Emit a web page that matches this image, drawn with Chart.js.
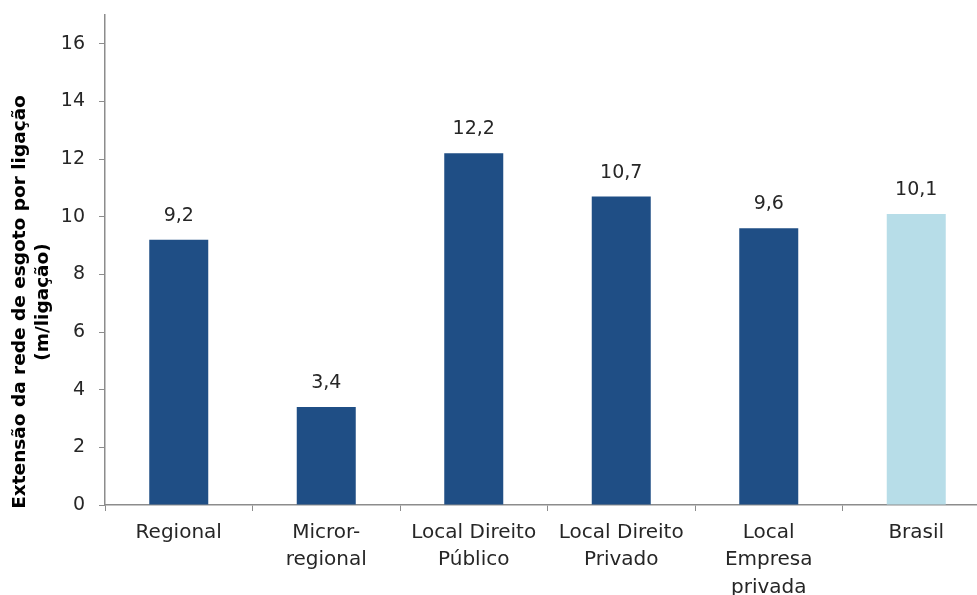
<!DOCTYPE html>
<html>
<head>
<meta charset="utf-8">
<script src="https://cdn.jsdelivr.net/npm/chart.js@4/dist/chart.umd.min.js"></script>
<style>
  html, body { margin: 0; padding: 0; background: #fff; overflow: hidden; }
  #wrap { width: 990px; height: 595px; }
</style>
</head>
<body>
<div id="wrap"><canvas id="myChart" width="990" height="595"></canvas></div>
<script>
const categories = [
  ['Regional'],
  ['Micror-', 'regional'],
  ['Local Direito', 'Público'],
  ['Local Direito', 'Privado'],
  ['Local', 'Empresa', 'privada'],
  ['Brasil']
];
const values = [9.2, 3.4, 12.2, 10.7, 9.6, 10.1];
const barColors = ['#1F4E85', '#1F4E85', '#1F4E85', '#1F4E85', '#1F4E85', '#B7DDE8'];
const yTicks = [0, 2, 4, 6, 8, 10, 12, 14, 16];
const yTitle = ['Extensão da rede de esgoto por ligação', '(m/ligação)'];

const FONT = "'DejaVu Sans', sans-serif";

// draws the value above each bar
const valueLabels = {
  id: 'valueLabels',
  afterDatasetsDraw(chart) {
    const ctx = chart.ctx;
    const meta = chart.getDatasetMeta(0);
    ctx.save();
    ctx.font = '19px ' + FONT;
    ctx.fillStyle = '#262626';
    ctx.textAlign = 'center';
    ctx.textBaseline = 'middle';
    meta.data.forEach((bar, i) => {
      ctx.fillText(values[i].toFixed(1).replace('.', ','), bar.x, bar.y - 24);
    });
    ctx.restore();
  }
};

// y axis title, drawn a bit below the middle like the original
const yAxisTitle = {
  id: 'yAxisTitle',
  afterDraw(chart) {
    const ctx = chart.ctx;
    const area = chart.chartArea;
    const cy = (area.top + area.bottom) / 2 + 42;
    ctx.save();
    ctx.font = 'bold 18.5px ' + FONT;
    ctx.fillStyle = '#000';
    ctx.textAlign = 'center';
    ctx.textBaseline = 'middle';
    ctx.translate(0, cy);
    ctx.rotate(-Math.PI / 2);
    ctx.fillText(yTitle[0], 0, 20);
    ctx.fillText(yTitle[1], 0, 43);
    ctx.restore();
  }
};

const ctx = document.getElementById('myChart').getContext('2d');
new Chart(ctx, {
  type: 'bar',
  data: {
    labels: categories,
    datasets: [{
      data: values,
      backgroundColor: barColors,
      borderWidth: 0,
      barPercentage: 0.4,
      categoryPercentage: 1
    }]
  },
  options: {
    responsive: false,
    animation: false,
    layout: { padding: { top: 15, right: 0, left: 0, bottom: 0 } },
    plugins: { legend: { display: false }, tooltip: { enabled: false } },
    scales: {
      x: {
        grid: { drawOnChartArea: false, drawTicks: true, tickLength: 6, color: '#8c8c8c' },
        border: { color: '#8c8c8c', width: 1.5 },
        ticks: { color: '#262626', font: { family: FONT, size: 20, lineHeight: 1.37 }, padding: 8, maxRotation: 0, autoSkip: false },
        afterFit(scale) { scale.height = 90; scale.paddingLeft = 0; scale.paddingRight = 0; }
      },
      y: {
        min: 0,
        max: 17,
        grid: { drawOnChartArea: false, drawTicks: true, tickLength: 6, color: '#8c8c8c' },
        border: { color: '#8c8c8c', width: 1.5 },
        ticks: { color: '#262626', font: { family: FONT, size: 19 }, padding: 14, stepSize: 2 },
        afterBuildTicks(scale) { scale.ticks = yTicks.map(v => ({ value: v })); },
        afterFit(scale) { scale.width = 105; scale.paddingTop = 0; scale.paddingBottom = 0; }
      }
    }
  },
  plugins: [valueLabels, yAxisTitle]
});
</script>
</body>
</html>
